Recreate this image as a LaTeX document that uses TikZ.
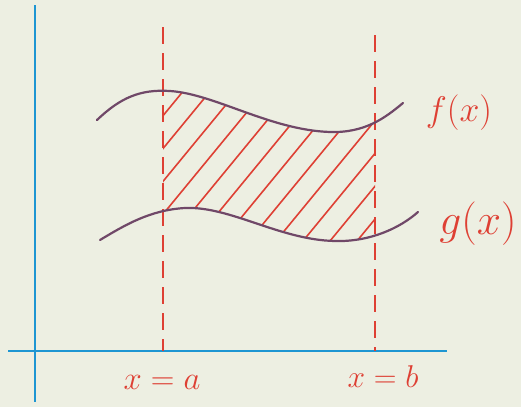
\documentclass[tikz,border=0pt]{standalone}
\usepackage{xcolor}
\usepackage{tikz}
\usetikzlibrary{calc}
\definecolor{paper}{RGB}{237,239,226}
\definecolor{axisblue}{RGB}{30,150,210}
\definecolor{penred}{RGB}{222,64,52}
\definecolor{curveink}{RGB}{112,72,104}
\tikzset{
  axisline/.style={draw=axisblue, line width=2.6pt},
  bound/.style={draw=penred, line width=2pt, dash pattern=on 17pt off 9pt},
  curve/.style={draw=curveink, line width=2.2pt, line cap=round},
  hatch/.style={draw=penred, line width=1.6pt, line cap=round},
  lbl/.style={text=penred, inner sep=0pt, font=\huge},
}

\begin{document}
\begin{tikzpicture}[x=1pt,y=-1pt]
  \useasboundingbox[fill=paper] (0,0) rectangle (521,407);

  % axes
  \coordinate (ytop) at (35,5);
  \coordinate (ybot) at (35,402);
  \coordinate (xl) at (8,351);
  \coordinate (xr) at (447,351);
  \draw[axisline] (ytop) -- (ybot);
  \draw[axisline] (xl) -- (xr);

  % hatched area between the curves
  \begin{scope}
    \clip (163,0) rectangle (375,407);
    \clip (97,120) .. controls (120,98) and (140,89) .. (170,91)
      .. controls (215,94) and (270,130) .. (330,132)
      .. controls (365,133) and (385,118) .. (403,103)
      -- (418,212)
      .. controls (400,228) and (370,242) .. (335,241)
      .. controls (280,240) and (230,206) .. (185,208)
      .. controls (150,210) and (125,225) .. (100,240) -- cycle;
    \foreach \hx in {56,83,...,461}
      \draw[hatch] (\hx-125,365) -- (\hx+125,61);
  \end{scope}

  % bounds
  \coordinate (atop) at (163,27);
  \coordinate (abot) at (163,351);
  \coordinate (btop) at (375,35);
  \coordinate (bbot) at (375,351);
  \draw[bound] (atop) -- (abot);
  \draw[bound] (btop) -- (bbot);

  % curves
  \draw[curve] (97,120) .. controls (120,98) and (140,89) .. (170,91)
    .. controls (215,94) and (270,130) .. (330,132)
    .. controls (365,133) and (385,118) .. (403,103);
  \draw[curve] (100,240) .. controls (125,225) and (150,210) .. (185,208)
    .. controls (230,206) and (280,240) .. (335,241)
    .. controls (370,242) and (400,228) .. (418,212);

  % labels
  \node[lbl] (flbl) at (459,113) {\scalebox{1.72}{$f(x)$}};
  \node[lbl] (glbl) at (478,224) {\scalebox{2.1}{$g(x)$}};
  \node[lbl] (albl) at (162,382) {\scalebox{1.58}{$x=a$}};
  \node[lbl] (blbl) at (383,377) {\scalebox{1.52}{$x=b$}};
\end{tikzpicture}
\end{document}
